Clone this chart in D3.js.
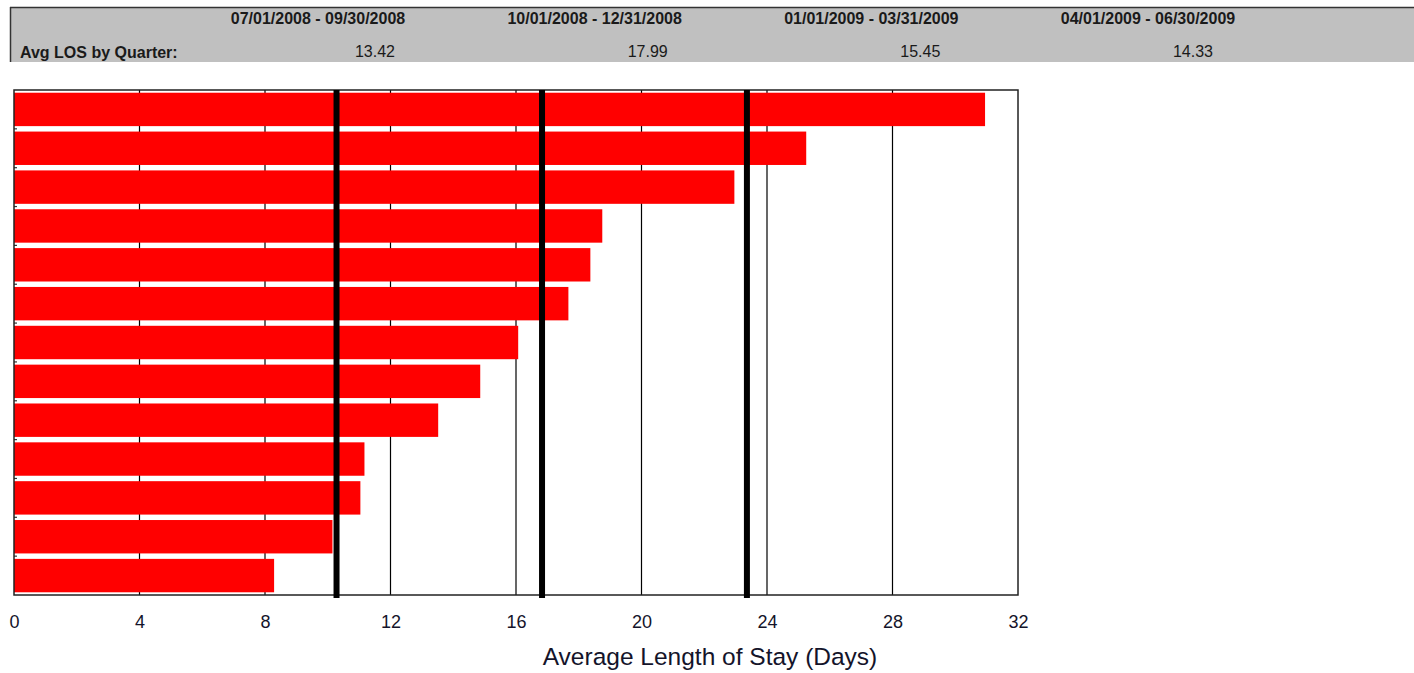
<!DOCTYPE html>
<html>
<head>
<meta charset="utf-8">
<script src="https://cdn.jsdelivr.net/npm/d3@7"></script>
<style>
  html, body { margin: 0; padding: 0; background: #fff; }
  svg { display: block; font-family: "Liberation Sans", Arial, sans-serif; }
</style>
</head>
<body>
<svg id="chart" width="1414" height="673"></svg>
<script>
// ---- data ----
const categories = ["1","2","3","4","5","6","7","8","9","10","11","12","13"];
const losValues = [30.95, 25.25, 22.96, 18.75, 18.37, 17.67, 16.07, 14.86, 13.52, 11.17, 11.04, 10.15, 8.29];
const refLines = [10.28, 16.83, 23.36];          // mean - SD, mean, mean + SD
const xTicks = [0, 4, 8, 12, 16, 20, 24, 28, 32];
const quarterLabels = ["07/01/2008 - 09/30/2008", "10/01/2008 - 12/31/2008", "01/01/2009 - 03/31/2009", "04/01/2009 - 06/30/2009"];
const quarterValues = ["13.42", "17.99", "15.45", "14.33"];
const headerLabel = "Avg LOS by Quarter:";
const axisTitle = "Average Length of Stay (Days)";

// ---- layout ----
const svg = d3.select("#chart");
const plot = { left: 14, right: 1018, top: 90, bottom: 595 };

// header band
svg.append("rect").attr("x", 10).attr("y", 7).attr("width", 1404).attr("height", 55).attr("fill", "#c0c0c0");
svg.append("line").attr("x1", 10).attr("x2", 1414).attr("y1", 7.5).attr("y2", 7.5).attr("stroke", "#333").attr("stroke-width", 1.5);
svg.append("line").attr("x1", 10.5).attr("x2", 10.5).attr("y1", 7).attr("y2", 62).attr("stroke", "#333").attr("stroke-width", 1.5);

const qDateX = d3.scalePoint().domain(d3.range(quarterLabels.length)).range([318, 1148]);
const qValX = d3.scalePoint().domain(d3.range(quarterValues.length)).range([375, 1193]);

svg.append("g").selectAll("text").data(quarterLabels).join("text")
  .attr("x", (d, i) => qDateX(i)).attr("y", 24)
  .attr("text-anchor", "middle").attr("font-size", 16).attr("font-weight", "bold").attr("fill", "#1a1a1a")
  .text(d => d);

svg.append("g").selectAll("text").data(quarterValues).join("text")
  .attr("x", (d, i) => qValX(i)).attr("y", 57)
  .attr("text-anchor", "middle").attr("font-size", 16).attr("fill", "#1a1a1a")
  .text(d => d);

svg.append("text").attr("x", 20).attr("y", 58)
  .attr("font-size", 16).attr("font-weight", "bold").attr("fill", "#1a1a1a")
  .text(headerLabel);

// scales
const x = d3.scaleLinear().domain([0, 32]).range([plot.left, plot.right]);
const y = d3.scaleBand().domain(categories).range([plot.top, plot.bottom])
  .paddingInner(0.14).paddingOuter(0.07);

// gridlines
svg.append("g").selectAll("line").data(xTicks.filter(t => t > 0 && t < 32)).join("line")
  .attr("x1", d => x(d)).attr("x2", d => x(d))
  .attr("y1", plot.top).attr("y2", plot.bottom)
  .attr("stroke", "#000").attr("stroke-width", 1.2);

// bars
svg.append("g").selectAll("rect").data(losValues).join("rect")
  .attr("x", x(0))
  .attr("y", (d, i) => y(categories[i]))
  .attr("width", d => x(d) - x(0))
  .attr("height", y.bandwidth())
  .attr("fill", "#ff0000");

// category boundary ticks on the left edge
const step = y.step();
const boundaries = categories.slice(1).map(c => y(c) - step * y.paddingInner() / 2);
svg.append("g").selectAll("line").data(boundaries).join("line")
  .attr("x1", plot.left).attr("x2", plot.left + 3)
  .attr("y1", d => d).attr("y2", d => d)
  .attr("stroke", "#333").attr("stroke-width", 1.2);

// frame
svg.append("rect")
  .attr("x", plot.left).attr("y", plot.top)
  .attr("width", plot.right - plot.left).attr("height", plot.bottom - plot.top)
  .attr("fill", "none").attr("stroke", "#222").attr("stroke-width", 1.5);

// reference lines
svg.append("g").selectAll("line").data(refLines).join("line")
  .attr("x1", d => x(d)).attr("x2", d => x(d))
  .attr("y1", plot.top).attr("y2", plot.bottom + 3)
  .attr("stroke", "#000").attr("stroke-width", 6);

// x axis labels
const xAxis = d3.axisBottom(x).tickValues(xTicks).tickSize(0).tickPadding(0).tickFormat(d3.format("d"));
const gx = svg.append("g").attr("transform", `translate(0,${plot.bottom})`).call(xAxis);
gx.select(".domain").remove();
gx.selectAll("text")
  .attr("y", 33).attr("dy", null)
  .attr("font-size", 18).attr("font-family", "Liberation Sans, Arial, sans-serif")
  .attr("fill", "#14142a");

// axis title
svg.append("text").attr("x", 710).attr("y", 665)
  .attr("text-anchor", "middle").attr("font-size", 24.5).attr("fill", "#14142a")
  .text(axisTitle);
</script>
</body>
</html>
